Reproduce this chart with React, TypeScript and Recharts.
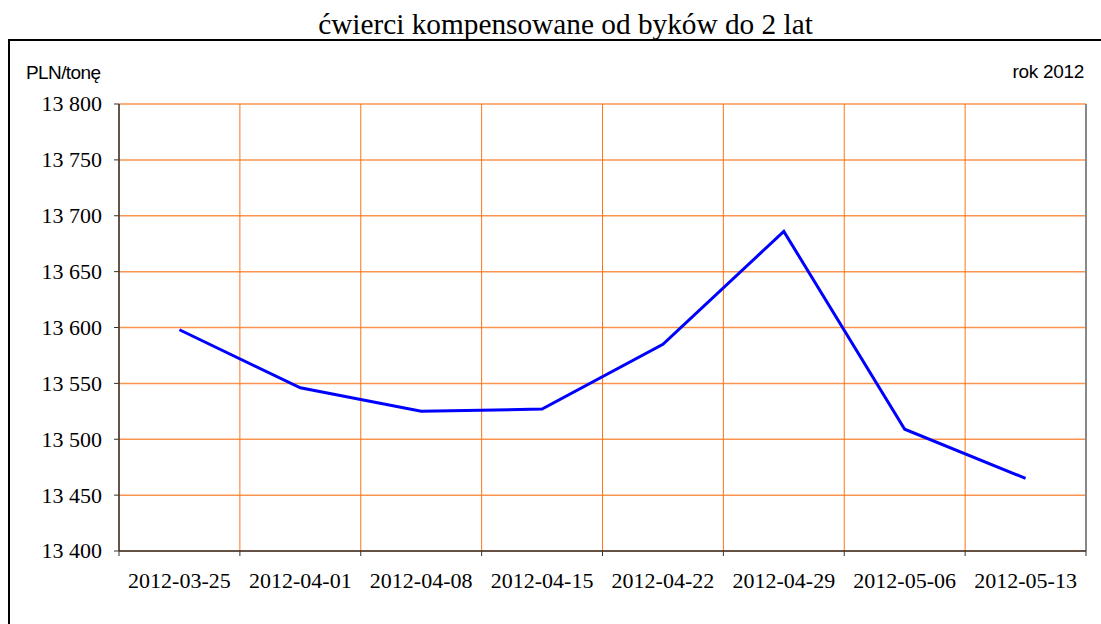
import { LineChart, Line, XAxis, YAxis, CartesianGrid, ReferenceLine } from "recharts";

const TITLE = "ćwierci kompensowane od byków do 2 lat";
const UNIT_LABEL = "PLN/tonę";
const YEAR_LABEL = "rok 2012";

const WEEKS = [
  "2012-03-25",
  "2012-04-01",
  "2012-04-08",
  "2012-04-15",
  "2012-04-22",
  "2012-04-29",
  "2012-05-06",
  "2012-05-13",
];
const PRICES = [13598, 13546, 13525, 13527, 13585, 13686, 13509, 13465];
const Y_TICKS = [13400, 13450, 13500, 13550, 13600, 13650, 13700, 13750, 13800];
const BAND_EDGES = WEEKS.map((_, i) => i).concat(WEEKS.length);

const data = WEEKS.map((week, i) => ({ pos: i + 0.5, week, price: PRICES[i] }));

const W = 1101;
const H = 624;
const MARGIN = { top: 104, right: 15, left: 0, bottom: 43 };
const Y_AXIS_W = 119;
const HALF_BAND = (W - MARGIN.left - MARGIN.right - Y_AXIS_W) / WEEKS.length / 2;

const SERIF = "'Liberation Serif', 'Times New Roman', serif";
const SANS = "'Liberation Sans', Arial, sans-serif";

const fmtThousands = (v: number) =>
  String(v).replace(/\B(?=(\d{3})+(?!\d))/g, " ");

function WeekTick(props: any) {
  const { x, y, payload } = props;
  const idx = payload.value;
  if (idx >= WEEKS.length) return <g />;
  return (
    <text
      x={x + HALF_BAND}
      y={y + 14}
      dy="0.71em"
      textAnchor="middle"
      fill="#000"
      fontSize={22}
      fontFamily={SERIF}
    >
      {WEEKS[idx]}
    </text>
  );
}

function PriceTick(props: any) {
  const { y, payload } = props;
  return (
    <text
      x={102}
      y={y}
      dy="0.34em"
      textAnchor="end"
      fill="#000"
      fontSize={22}
      fontFamily={SERIF}
      style={{ fontFamily: SERIF }}
    >
      {fmtThousands(payload.value)}
    </text>
  );
}

export default function App() {
  return (
    <div style={{ position: "absolute", left: 0, top: 0, width: W, height: H, background: "#fff" }}>
      <div
        style={{
          position: "absolute",
          top: 9,
          left: 15,
          width: W,
          textAlign: "center",
          fontFamily: SERIF,
          fontSize: 29.3,
          lineHeight: "30px",
          color: "#000",
        }}
      >
        {TITLE}
      </div>
      {/* frame */}
      <div style={{ position: "absolute", left: 8, top: 39, width: W - 8, height: 2, background: "#000" }} />
      <div style={{ position: "absolute", left: 8, top: 39, width: 2, height: H - 39, background: "#000" }} />
      <div
        style={{
          position: "absolute",
          left: 26,
          top: 61,
          fontFamily: SANS,
          fontSize: 19,
          letterSpacing: -0.6,
          lineHeight: "24px",
          color: "#000",
        }}
      >
        {UNIT_LABEL}
      </div>
      <div
        style={{
          position: "absolute",
          right: W - 1084,
          top: 60,
          fontFamily: SANS,
          fontSize: 19,
          letterSpacing: -0.3,
          lineHeight: "24px",
          color: "#000",
        }}
      >
        {YEAR_LABEL}
      </div>

      <div style={{ position: "absolute", left: 0, top: 0 }}>
        <LineChart width={W} height={H} data={data} margin={MARGIN}>
          <CartesianGrid horizontal={true} vertical={false} stroke="#FA9450" strokeWidth={1.5} />
          <CartesianGrid horizontal={false} vertical={true} stroke="#FF7418" strokeWidth={1} />
          <XAxis
            dataKey="pos"
            type="number"
            domain={[0, WEEKS.length]}
            ticks={BAND_EDGES}
            interval={0}
            tick={<WeekTick />}
            tickSize={5}
            tickLine={{ stroke: "#333" }}
            axisLine={{ stroke: "#333", strokeWidth: 1.5 }}
            height={30}
          />
          <YAxis
            type="number"
            domain={[13400, 13800]}
            ticks={Y_TICKS}
            interval={0}
            width={Y_AXIS_W}
            tickSize={5}
            tickLine={{ stroke: "#333" }}
            axisLine={{ stroke: "#333", strokeWidth: 1.5 }}
            tick={<PriceTick />}
          />
          <ReferenceLine x={WEEKS.length} stroke="#888" strokeWidth={2} />
          <Line
            type="linear"
            dataKey="price"
            stroke="#0000FF"
            strokeWidth={3}
            dot={false}
            isAnimationActive={false}
          />
        </LineChart>
      </div>
    </div>
  );
}
